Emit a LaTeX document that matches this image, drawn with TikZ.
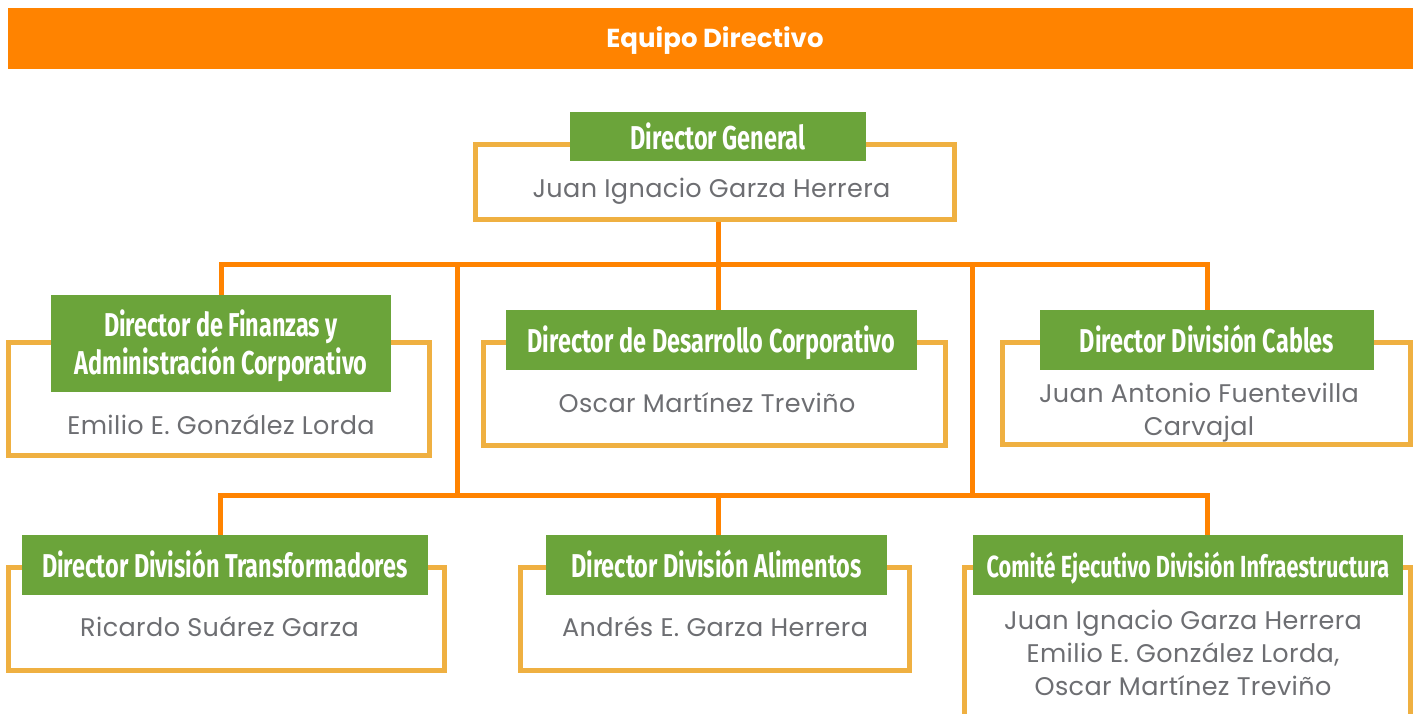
\documentclass[tikz,border=0pt]{standalone}
\usepackage{fontspec}
\usetikzlibrary{backgrounds}
\newfontfamily\namefont[LetterSpace=1.5]{Poppins}
\newfontfamily\hdrfont{Poppins}
\newfontfamily\lblfont[FakeStretch=0.71]{Fira Sans}
\definecolor{hdrorange}{HTML}{FF8300}
\definecolor{boxgold}{HTML}{EFB041}
\definecolor{lblgreen}{HTML}{6BA43A}
\definecolor{namegray}{HTML}{6D6E72}
\tikzset{
  obox/.style={draw=boxgold, line width=5pt, inner sep=0pt, outer sep=0pt},
  glabel/.style={fill=lblgreen, inner sep=0pt, outer sep=0pt, text=white,
    font=\lblfont\bfseries\fontsize{33}{38}\selectfont, align=center,
    text height=29pt, text depth=4pt},
  glabeltwo/.style={fill=lblgreen, inner sep=0pt, outer sep=0pt, text=white,
    font=\lblfont\bfseries\fontsize{33}{38}\selectfont, align=center},
  pname/.style={text=namegray, inner sep=0pt, anchor=base, align=center,
    font=\namefont\fontsize{25.5}{33}\selectfont},
  conn/.style={draw=hdrorange, line width=5pt},
}
\begin{document}
\begin{tikzpicture}[x=1pt,y=-1pt]
\useasboundingbox (0,0) rectangle (1413,713);
\clip (0,0) rectangle (1413,713);
% header
\node[fill=hdrorange, minimum width=1405pt, minimum height=61pt, inner sep=0pt, anchor=north west] (hdr) at (8,8) {};
\node[text=white, anchor=base, inner sep=0pt, font=\hdrfont\bfseries\fontsize{26}{30}\selectfont] (hdrT) at (715,47) {Equipo Directivo};
% outline boxes
\node[obox, minimum width=479pt, minimum height=75pt] (dgB) at (715,182) {};
\node[obox, minimum width=421pt, minimum height=113pt] (finB) at (219,399) {};
\node[obox, minimum width=462pt, minimum height=103pt] (devB) at (714.5,394) {};
\node[obox, minimum width=408pt, minimum height=102pt] (cabB) at (1206.5,393.5) {};
\node[obox, minimum width=436pt, minimum height=103pt] (trB) at (226.5,619) {};
\node[obox, minimum width=389pt, minimum height=103pt] (alB) at (715,619) {};
\node[obox, minimum width=446pt, minimum height=192pt] (infB) at (1187.5,663.5) {};
% green labels
\node[glabel, minimum width=296pt, minimum height=49pt] (dgL) at (718,136.5) {Director General};
\node[glabeltwo, minimum width=340pt, minimum height=97pt] (finL) at (221,343.5) {\rule{0pt}{32pt}Director de Finanzas y\\Administración Corporativo};
\node[glabel, minimum width=411pt, minimum height=60pt] (devL) at (711.5,340) {Director de Desarrollo Corporativo};
\node[glabel, minimum width=334pt, minimum height=60pt] (cabL) at (1207,340) {Director División Cables};
\node[glabel, minimum width=406pt, minimum height=60pt] (trL) at (225,565) {Director División Transformadores};
\node[glabel, minimum width=341pt, minimum height=60pt] (alL) at (716.5,565) {Director División Alimentos};
\node[glabel, minimum width=430pt, minimum height=60pt] (infL) at (1188,565) {\fontsize{30.5}{38}\selectfont Comité Ejecutivo División Infraestructura};
% names (anchor base = baseline of the last line)
\node[pname] (dgN) at (711.5,197) {Juan Ignacio Garza Herrera};
\node[pname] (finN) at (221,434) {Emilio E. González Lorda};
\node[pname] (devN) at (707,412) {Oscar Martínez Treviño};
\node[pname] (cabN) at (1199,435) {Juan Antonio Fuentevilla\\Carvajal};
\node[pname] (trN) at (219.5,636) {Ricardo Suárez Garza};
\node[pname] (alN) at (715,636) {Andrés E. Garza Herrera};
\node[pname] (infN) at (1183,695) {Juan Ignacio Garza Herrera\\Emilio E. González Lorda,\\Oscar Martínez Treviño};
% connectors
\coordinate (busT) at (718,264);
\coordinate (busB) at (718,495);
\coordinate (vL) at (457,264);
\coordinate (vR) at (972,264);
\coordinate (bL) at (220,495);
\coordinate (bR) at (1207,495);
\begin{scope}[on background layer]
\draw[conn] (dgL.south |- dgB.south) -- (busT);
\draw[conn] (finL.north) -- (finL.north |- busT) -- (cabL.north |- busT) -- (cabL.north);
\draw[conn] (busT) -- (busT |- devL.north);
\draw[conn] (vL) -- (vL |- busB);
\draw[conn] (vR) -- (vR |- busB);
\draw[conn] (bL |- trL.north) -- (bL) -- (bR) -- (bR |- infL.north);
\draw[conn] (busB) -- (busB |- alL.north);
\end{scope}
\end{tikzpicture}
\end{document}
